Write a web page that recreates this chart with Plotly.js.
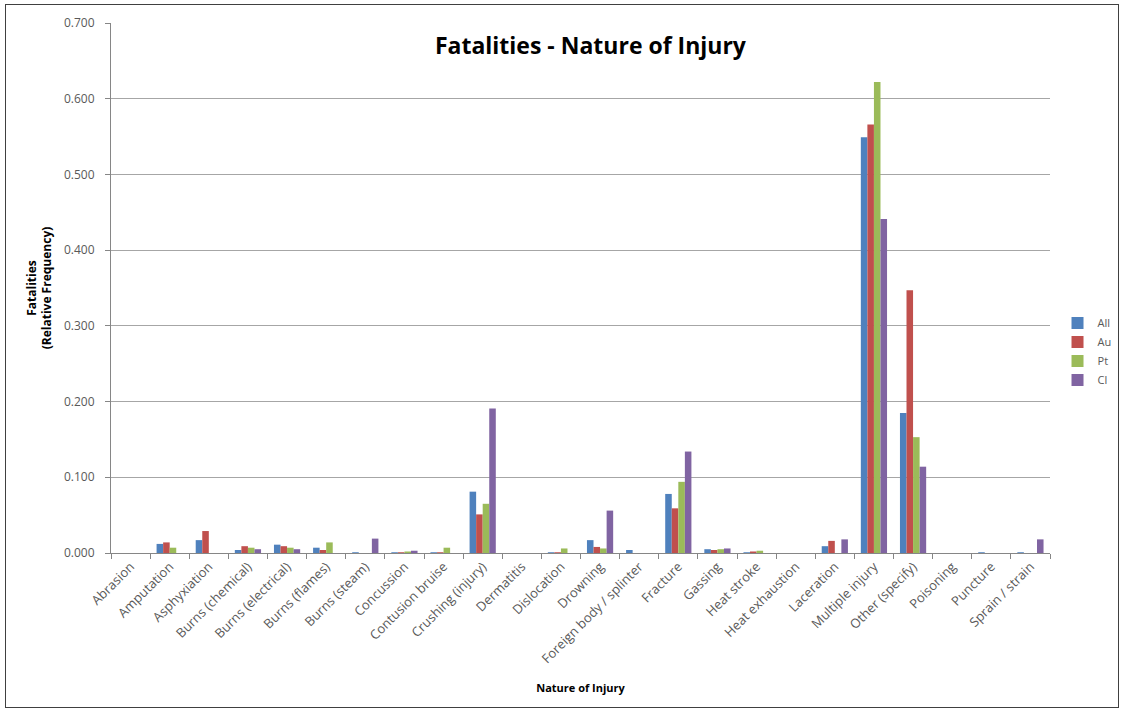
<!DOCTYPE html>
<html>
<head>
<meta charset="utf-8">
<script src="https://cdn.plot.ly/plotly-3.0.1.min.js"></script>
<style>
html,body{margin:0;padding:0;background:#fff;}
#chart{width:1129px;height:713px;}
#frame{position:absolute;left:5px;top:4px;width:1112px;height:702px;border:1px solid #404040;pointer-events:none;}
</style>
</head>
<body>
<div id="chart"></div>
<div id="frame"></div>
<script>
const categories = ["Abrasion","Amputation","Asphyxiation","Burns (chemical)","Burns (electrical)","Burns (flames)","Burns (steam)","Concussion","Contusion bruise","Crushing (injury)","Dermatitis","Dislocation","Drowning","Foreign body / splinter","Fracture","Gassing","Heat stroke","Heat exhaustion","Laceration","Multiple injury","Other (specify)","Poisoning","Puncture","Sprain / strain"];
const seriesNames = ["All","Au","Pt","Cl"];
const allValues = [0,0.012,0.017,0.004,0.011,0.007,0.001,0.001,0.001,0.081,0,0.001,0.017,0.004,0.078,0.005,0.001,0,0.009,0.549,0.185,0,0.001,0.001];
const auValues  = [0,0.014,0.029,0.009,0.009,0.004,0,0.001,0.001,0.051,0,0.001,0.008,0,0.059,0.004,0.002,0,0.016,0.566,0.347,0,0,0];
const ptValues  = [0,0.007,0,0.007,0.007,0.014,0,0.002,0.007,0.065,0,0.006,0.006,0,0.094,0.005,0.003,0,0,0.622,0.153,0,0,0];
const clValues  = [0,0,0,0.005,0.005,0,0.019,0.003,0,0.191,0,0,0.056,0,0.134,0.006,0,0,0.018,0.441,0.114,0,0,0.018];
const colors = ["#4F81BD","#C0504D","#9BBB59","#8064A2"];
const values = [allValues, auValues, ptValues, clValues];

const traces = seriesNames.map((n,i)=>({
  type:'bar', name:n, x:categories, y:values[i],
  marker:{color:colors[i]}
}));

const font = "'Open Sans', sans-serif";
const layout = {
  width:1129, height:713,
  paper_bgcolor:'#fff', plot_bgcolor:'#fff',
  margin:{l:111,r:56,t:23,b:160},
  barmode:'group', bargap:0.33, bargroupgap:0,
  font:{family:font,size:11,color:'#595959'},
  title:{text:'<b>Fatalities - Nature of Injury</b>', font:{family:font,size:23,color:'#000'}, x:0.523, xanchor:'center', y:0.935, yanchor:'middle'},
  xaxis:{
    type:'category', tickangle:-45, tickson:'boundaries', ticks:'outside', ticklen:5, tickcolor:'#868686',
    showline:true, linecolor:'#868686', linewidth:1, showgrid:false,
    tickfont:{family:font,size:13,color:'#595959'},
    title:{text:'<b>Nature of Injury</b>', font:{family:font,size:11,color:'#000'}, standoff:18}
  },
  yaxis:{
    range:[0,0.7], dtick:0.1, tickformat:'.3f', showgrid:true, gridcolor:'#a6a6a6', gridwidth:1,
    showline:true, linecolor:'#868686', ticks:'outside', ticklen:5, tickcolor:'#868686', zeroline:false,
    ticklabelstandoff:8,
    tickfont:{family:font,size:12,color:'#595959'},
    title:{text:'<b>Fatalities<br>(Relative Frequency)</b>', font:{family:font,size:12,color:'#000'}, standoff:9}
  },
  legend:{x:1.008, y:0.38, xanchor:'left', yanchor:'middle', font:{family:font,size:11,color:'#595959'}, itemwidth:30, tracegroupgap:4, bgcolor:'rgba(0,0,0,0)'},
  showlegend:true
};
Plotly.newPlot('chart', traces, layout, {displayModeBar:false, staticPlot:true});
</script>
</body>
</html>
